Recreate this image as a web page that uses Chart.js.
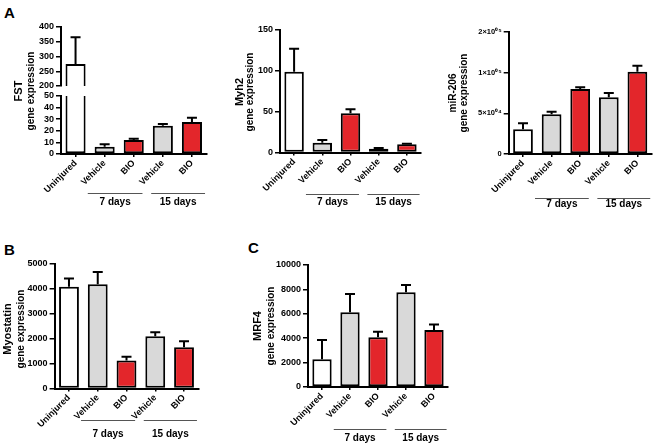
<!DOCTYPE html>
<html>
<head>
<meta charset="utf-8">
<script src="https://cdn.jsdelivr.net/npm/chart.js@4.4.1/dist/chart.umd.min.js"></script>
<style>
  body { margin: 0; width: 657px; height: 444px; background: #fff; position: relative; overflow: hidden; font-family: "Liberation Sans", Arial, sans-serif; }
  canvas { position: absolute; }
  .letter { position: absolute; font-weight: bold; font-size: 15px; line-height: 17px; }
</style>
</head>
<body>
<div class="letter" style="left:4px;top:4px">A</div>
<div class="letter" style="left:4px;top:241px">B</div>
<div class="letter" style="left:248px;top:239px">C</div>

<canvas id="fstLow" width="220" height="220" style="left:0;top:0"></canvas>
<canvas id="fstHigh" width="220" height="220" style="left:0;top:0"></canvas>
<canvas id="myh2" width="220" height="220" style="left:220px;top:0"></canvas>
<canvas id="mir206" width="217" height="220" style="left:440px;top:0"></canvas>
<canvas id="myostatin" width="220" height="222" style="left:0;top:222px"></canvas>
<canvas id="mrf4" width="237" height="222" style="left:220px;top:222px"></canvas>

<script>
// groups on the x axis
let categories = ["Uninjured", "Vehicle", "BIO", "Vehicle", "BIO"];
let groupLabels = ["7 days", "15 days"];

// mean and top of error bar (mean + SEM)
let fstMean = [275, 6.2, 12, 24.3, 27.6];
let fstErr = [365, 8.3, 13.2, 25.8, 31.2];
let myh2Mean = [99, 12, 48, 4.5, 10];
let myh2Err = [127, 15.3, 53, 5.5, 10.8];
let mirMean = [30500, 48800, 80000, 69700, 101000];
let mirErr = [37700, 52000, 82000, 75000, 108500];
let mirTickLabels = ["0", "5×10⁰⁴", "1×10⁰⁵", "2×10⁰⁵"];
let mstnMean = [4090, 4190, 1120, 2100, 1660];
let mstnErr = [4420, 4680, 1280, 2260, 1900];
let mrf4Mean = [2280, 6120, 4070, 7760, 4670];
let mrf4Err = [3850, 7620, 4530, 8360, 5130];

const barColors = ["#ffffff", "#d9d9d9", "#e3262b", "#d9d9d9", "#e3262b"];
const FONT = "'Liberation Sans', Arial, sans-serif";

Chart.defaults.font.family = FONT;
Chart.defaults.color = "#000";
Chart.defaults.animation = false;

const errorBars = {
  id: "errorBars",
  afterDatasetsDraw(chart, args, opts) {
    if (!opts.err) return;
    const ds = chart.data.datasets[0];
    const meta = chart.getDatasetMeta(0);
    const y = chart.scales.y;
    const ctx = chart.ctx;
    ctx.save();
    ctx.strokeStyle = "#000";
    ctx.lineWidth = 2;
    meta.data.forEach((bar, i) => {
      const v = ds.data[i];
      const e = opts.err[i];
      if (v == null || v > y.max || v < y.min) return;
      const y0 = y.getPixelForValue(v);
      const y1 = y.getPixelForValue(e);
      ctx.beginPath();
      ctx.moveTo(bar.x, y0);
      ctx.lineTo(bar.x, y1);
      ctx.moveTo(bar.x - 5, y1);
      ctx.lineTo(bar.x + 5, y1);
      ctx.stroke();
    });
    ctx.restore();
  }
};

const groupLines = {
  id: "groupLines",
  afterDraw(chart, args, opts) {
    if (!opts.lineY) return;
    const x = chart.scales.x;
    const ctx = chart.ctx;
    const s = x.getPixelForValue(1) - x.getPixelForValue(0);
    const spans = [[1, 2, -0.58, 0.3], [3, 4, -0.4, 0.45]];
    ctx.save();
    ctx.strokeStyle = "#555";
    ctx.lineWidth = 1;
    ctx.fillStyle = "#000";
    ctx.font = "bold 10px " + FONT;
    ctx.textAlign = "center";
    ctx.textBaseline = "middle";
    spans.forEach((sp, g) => {
      const a = x.getPixelForValue(sp[0]) + sp[2] * s;
      const b = x.getPixelForValue(sp[1]) + sp[3] * s;
      ctx.beginPath();
      ctx.moveTo(a, opts.lineY + 0.5);
      ctx.lineTo(b, opts.lineY + 0.5);
      ctx.stroke();
      ctx.fillText(groupLabels[g], (a + b) / 2, opts.textY);
    });
    ctx.restore();
  }
};

const yTitle = {
  id: "yTitle",
  afterDraw(chart, args, opts) {
    if (!opts.lines) return;
    const ctx = chart.ctx;
    ctx.save();
    ctx.fillStyle = "#000";
    ctx.textAlign = "center";
    ctx.textBaseline = "middle";
    opts.lines.forEach(l => {
      ctx.save();
      ctx.translate(l.x, opts.cy);
      ctx.rotate(-Math.PI / 2);
      ctx.font = l.font + " " + FONT;
      ctx.fillText(l.text, 0, 0);
      ctx.restore();
    });
    ctx.restore();
  }
};

function panel(id, box, area, yOpts, mean, err, extra) {
  extra = extra || {};
  const showX = extra.showX !== false;
  return new Chart(document.getElementById(id), {
    type: "bar",
    data: {
      labels: categories,
      datasets: [{
        data: mean,
        backgroundColor: barColors,
        borderColor: "#000",
        borderWidth: 2,
        borderSkipped: false,
        barPercentage: 0.69,
        categoryPercentage: 1,
        clip: 0
      }]
    },
    options: {
      responsive: false,
      layout: {
        padding: {
          left: 0,
          top: area.y0 - box.top,
          right: box.left + box.w - area.x1,
          bottom: showX ? 0 : box.top + box.h - area.y1
        }
      },
      plugins: {
        legend: { display: false },
        tooltip: { enabled: false },
        errorBars: { err: err },
        groupLines: extra.groups || {},
        yTitle: extra.title || {}
      },
      scales: {
        x: {
          display: showX,
          offset: true,
          grid: { display: true, offset: false, drawOnChartArea: false, drawTicks: true, tickLength: 3, color: "#000", lineWidth: 1.5 },
          border: { display: true, color: "#000", width: 2 },
          ticks: { minRotation: 45, maxRotation: 45, padding: 1, font: { size: 9, weight: "bold" }, color: "#000" },
          afterFit: s => { s.height = showX ? box.top + box.h - area.y1 : 0; }
        },
        y: Object.assign({
          grid: { display: true, drawOnChartArea: false, drawTicks: true, tickLength: 5, color: "#000", lineWidth: 1.5 },
          border: { display: true, color: "#000", width: 2 },
          afterFit: s => { s.width = area.x0 - box.left; }
        }, yOpts)
      }
    },
    plugins: [errorBars, groupLines, yTitle]
  });
}

const tickFont = { size: 9, weight: "bold" };
function yTicks(step, extraOpts) {
  return Object.assign({ stepSize: step, autoSkip: false, padding: 2, font: tickFont, color: "#000", callback: v => String(v) }, extraOpts || {});
}

// A: FST with a broken axis, drawn as two charts
panel("fstLow", { left: 0, top: 0, w: 220, h: 220 }, { x0: 61, x1: 206.5, y0: 96, y1: 154 },
  { min: 0, max: 50, ticks: yTicks(10) },
  fstMean, fstErr,
  {
    groups: { lineY: 193, textY: 202 },
    title: { cy: 91, lines: [{ text: "FST", font: "bold 11px", x: 19 }, { text: "gene expression", font: "bold 10px", x: 31 }] }
  });
panel("fstHigh", { left: 0, top: 0, w: 220, h: 220 }, { x0: 61, x1: 206.5, y0: 27, y1: 86 },
  { min: 200, max: 400, ticks: yTicks(50) },
  [fstMean[0], null, null, null, null], fstErr, { showX: false });

panel("myh2", { left: 220, top: 0, w: 220, h: 220 }, { x0: 280, x1: 421, y0: 30, y1: 152.5 },
  { min: 0, max: 150, ticks: yTicks(50) },
  myh2Mean, myh2Err,
  {
    groups: { lineY: 194, textY: 202.5 },
    title: { cy: 92, lines: [{ text: "Myh2", font: "bold 11px", x: 19.5 }, { text: "gene expression", font: "bold 10px", x: 30.5 }] }
  });

panel("mir206", { left: 440, top: 0, w: 217, h: 220 }, { x0: 508.7, x1: 651.7, y0: 32, y1: 154 },
  { min: 0, max: 150000, ticks: yTicks(50000, { font: { size: 7.5, weight: "bold" }, callback: (v, i) => mirTickLabels[i] }) },
  mirMean, mirErr,
  {
    groups: { lineY: 198, textY: 204.5 },
    title: { cy: 93, lines: [{ text: "miR-206", font: "bold 10px", x: 13 }, { text: "gene expression", font: "bold 10px", x: 24.5 }] }
  });

panel("myostatin", { left: 0, top: 222, w: 220, h: 222 }, { x0: 54.6, x1: 198.4, y0: 264, y1: 388.5 },
  { min: 0, max: 5000, ticks: yTicks(1000) },
  mstnMean, mstnErr,
  {
    groups: { lineY: 198, textY: 212 },
    title: { cy: 107, lines: [{ text: "Myostatin", font: "bold 11px", x: 8 }, { text: "gene expression", font: "bold 10px", x: 21 }] }
  });

panel("mrf4", { left: 220, top: 222, w: 237, h: 222 }, { x0: 308, x1: 448, y0: 265, y1: 387 },
  { min: 0, max: 10000, ticks: yTicks(2000) },
  mrf4Mean, mrf4Err,
  {
    groups: { lineY: 207, textY: 216 },
    title: { cy: 104, lines: [{ text: "MRF4", font: "bold 11px", x: 38 }, { text: "gene expression", font: "bold 10px", x: 51 }] }
  });
</script>
</body>
</html>
